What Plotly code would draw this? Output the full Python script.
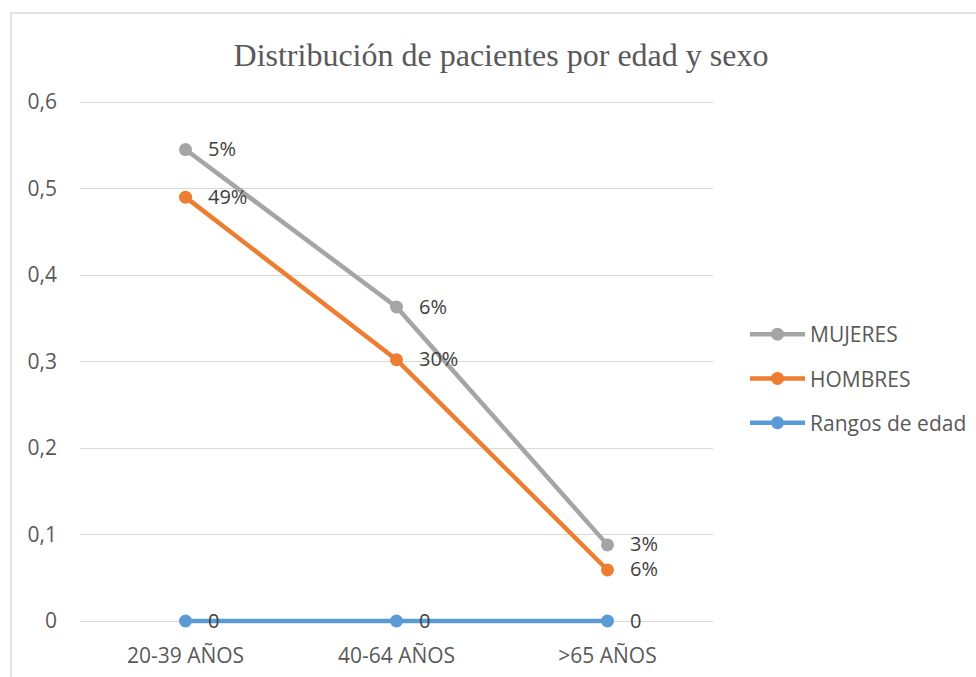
import plotly.graph_objects as go

categories = ["20-39 AÑOS", "40-64 AÑOS", ">65 AÑOS"]
mujeres = [0.545, 0.363, 0.088]
hombres = [0.490, 0.302, 0.059]
rangos = [0, 0, 0]
mujeres_labels = ["5%", "6%", "3%"]
hombres_labels = ["49%", "30%", "6%"]
rangos_labels = ["0", "0", "0"]
yticks = [0, 0.1, 0.2, 0.3, 0.4, 0.5, 0.6]
ytick_text = ["0", "0,1", "0,2", "0,3", "0,4", "0,5", "0,6"]

GRAY = "#A5A5A5"
ORANGE = "#ED7D31"
BLUE = "#5B9BD5"
TXT = "#595959"
LBL = "#404040"
GRID = "#D9D9D9"
FONT = "Open Sans"

W, H = 976, 677
L, R, T, B = 80, 263, 98, 48
pw, ph = W - L - R, H - T - B
PPU = 865.0  # pixels per y unit
ylo = -(H - B - 621) / PPU
yhi = 0.6 + (102 - T) / PPU

fig = go.Figure()
series = [("MUJERES", mujeres, GRAY, mujeres_labels),
          ("HOMBRES", hombres, ORANGE, hombres_labels),
          ("Rangos de edad", rangos, BLUE, rangos_labels)]
for name, vals, col, _ in series:
    fig.add_trace(go.Scatter(
        x=categories, y=vals, name=name, legendgroup=name,
        mode="lines+markers", cliponaxis=False,
        line=dict(color=col, width=4.5),
        marker=dict(color=col, size=13),
    ))

annotations = []
for name, vals, col, labels in series:
    for c, v, t in zip(categories, vals, labels):
        annotations.append(dict(
            x=c, y=v, xref="x", yref="y", text=t, showarrow=False,
            xanchor="left", yanchor="middle", xshift=20, yshift=1,
            font=dict(family=FONT, size=20, color=LBL),
        ))

fig.update_layout(
    width=W, height=H,
    margin=dict(l=L, r=R, t=T, b=B, autoexpand=False),
    paper_bgcolor="white", plot_bgcolor="white",
    title=dict(text="Distribución de pacientes por edad y sexo",
               font=dict(family="Liberation Serif", size=32, color=TXT),
               x=501 / W, xanchor="center", xref="container",
               y=1 - 55 / H, yanchor="middle", yref="container"),
    xaxis=dict(range=[-0.5, 2.5], showgrid=False, showline=False,
               ticks="", tickfont=dict(family=FONT, size=21, color=TXT),
               ticklabelstandoff=12, zeroline=False, fixedrange=True),
    yaxis=dict(range=[ylo, yhi], tickvals=yticks, ticktext=ytick_text,
               showgrid=True, gridcolor=GRID, gridwidth=1,
               showline=False, zeroline=True, zerolinecolor=GRID,
               zerolinewidth=1, ticks="",
               tickfont=dict(family=FONT, size=21, color=TXT),
               ticklabelstandoff=22, fixedrange=True),
    legend=dict(x=(745 - L) / pw, xanchor="left", y=1 - (314 - T) / ph,
                yanchor="top", traceorder="grouped", tracegroupgap=14,
                itemwidth=55,
                font=dict(family=FONT, size=21, color=TXT),
                bgcolor="rgba(0,0,0,0)"),
    showlegend=True,
    annotations=annotations,
    shapes=[dict(type="rect", xref="paper", yref="paper",
                 x0=(11 - L) / pw, x1=(1000 - L) / pw,
                 y0=-(B + 30) / ph, y1=1 + (T - 13) / ph,
                 line=dict(color=GRID, width=1.5), layer="below")],
)

fig.write_html("out.html")
